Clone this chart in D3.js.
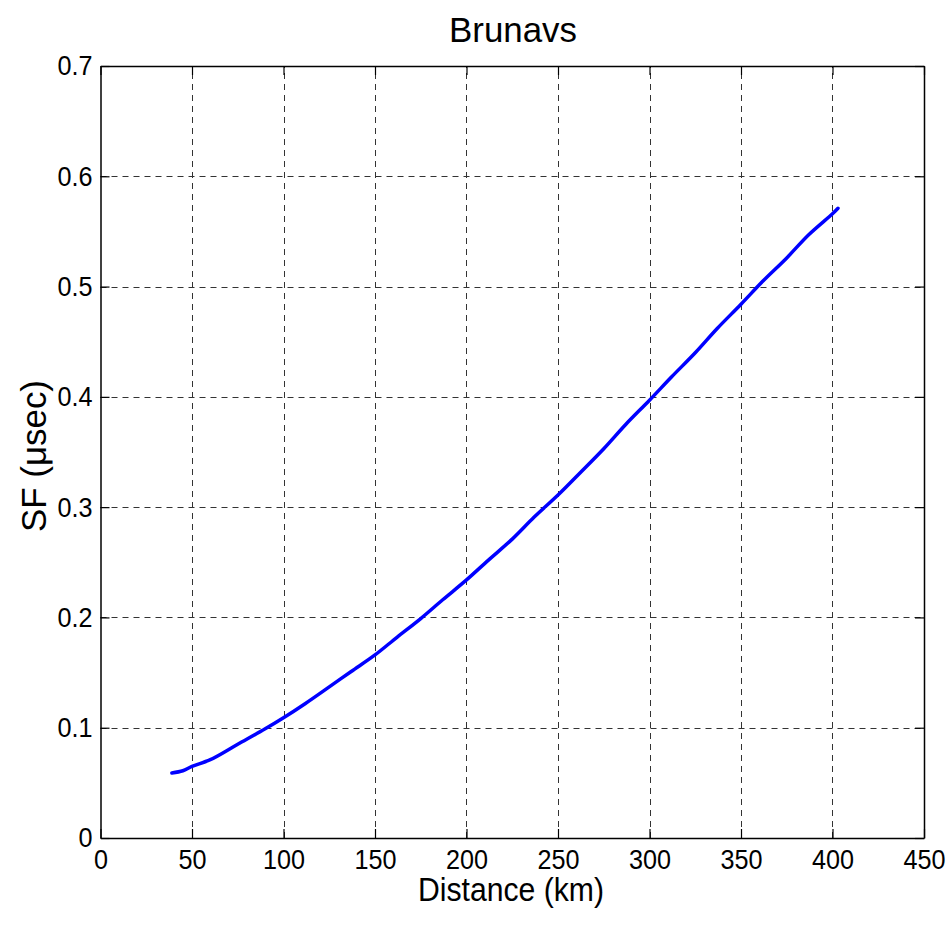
<!DOCTYPE html>
<html>
<head>
<meta charset="utf-8">
<script src="https://cdn.jsdelivr.net/npm/d3@7"></script>
<style>
  body { margin: 0; background: #fff; }
  text { font-family: "Liberation Sans", Arial, sans-serif; fill: #000; }
</style>
</head>
<body>
<svg id="chart" width="952" height="925"></svg>
<script>
// values
var distance = [39, 45, 50, 60, 75, 90, 100, 112, 125, 137, 150, 162, 175, 187, 200, 212, 225, 237, 250, 262, 275, 287, 300, 312, 325, 337, 350, 362, 375, 387, 400, 403];
var sf = [0.059, 0.061, 0.065, 0.071, 0.085, 0.099, 0.109, 0.122, 0.137, 0.151, 0.166, 0.182, 0.199, 0.216, 0.234, 0.252, 0.271, 0.291, 0.311, 0.331, 0.353, 0.375, 0.397, 0.418, 0.440, 0.462, 0.484, 0.505, 0.526, 0.547, 0.566, 0.571];
var xTicks = [0, 50, 100, 150, 200, 250, 300, 350, 400, 450];
var yTicks = [0, 0.1, 0.2, 0.3, 0.4, 0.5, 0.6, 0.7];

var plotL = 100.5, plotR = 924, plotT = 66, plotB = 838;
var svg = d3.select('#chart');

var x = d3.scaleLinear().domain([0, 450]).range([plotL, plotR]);
var y = d3.scaleLinear().domain([0, 0.7]).range([plotB, plotT]);

// grid
var grid = svg.append('g')
    .attr('stroke', '#333')
    .attr('stroke-width', 1)
    .attr('stroke-dasharray', '6,5');
xTicks.slice(1, -1).forEach(function (t) {
    grid.append('line')
        .attr('x1', Math.round(x(t)) + 0.5).attr('x2', Math.round(x(t)) + 0.5)
        .attr('y1', plotB).attr('y2', plotT);
});
yTicks.slice(1, -1).forEach(function (t) {
    grid.append('line')
        .attr('x1', plotL).attr('x2', plotR)
        .attr('y1', Math.round(y(t)) + 0.5).attr('y2', Math.round(y(t)) + 0.5);
});

// axes with inward ticks on all sides
function fmtY(d) { return d === 0 ? '0' : d3.format('.1f')(d); }
var ax = svg.append('g').attr('class', 'axes');
ax.append('g').attr('transform', 'translate(0,' + plotB + ')')
    .call(d3.axisBottom(x).tickValues(xTicks).tickSizeInner(-9).tickSizeOuter(0).tickPadding(11));
ax.append('g').attr('transform', 'translate(0,' + plotT + ')')
    .call(d3.axisTop(x).tickValues(xTicks).tickSizeInner(-9).tickSizeOuter(0).tickFormat(''));
ax.append('g').attr('transform', 'translate(' + plotL + ',0)')
    .call(d3.axisLeft(y).tickValues(yTicks).tickFormat(fmtY).tickSizeInner(-9).tickSizeOuter(0).tickPadding(8));
ax.append('g').attr('transform', 'translate(' + plotR + ',0)')
    .call(d3.axisRight(y).tickValues(yTicks).tickSizeInner(-9).tickSizeOuter(0).tickFormat(''));
ax.selectAll('.domain').attr('stroke', '#000').attr('stroke-width', 1.5);
ax.selectAll('.tick line').attr('stroke', '#000').attr('stroke-width', 1.2);
ax.selectAll('.tick text')
    .style('font-family', '"Liberation Sans", Arial, sans-serif')
    .style('font-size', '28px')
    .attr('fill', '#000');

// squeeze tick labels horizontally a little
ax.selectAll('.tick text').each(function () {
    var t = d3.select(this);
    t.attr('transform', 'scale(0.9,1)')
        .attr('x', (+t.attr('x') || 0) / 0.9);
});

// curve
var line = d3.line()
    .x(function (d, i) { return x(distance[i]); })
    .y(function (d) { return y(d); })
    .curve(d3.curveCatmullRom);
svg.append('path')
    .datum(sf)
    .attr('d', line)
    .attr('fill', 'none')
    .attr('stroke', '#0000ff')
    .attr('stroke-width', 3.5)
    .attr('stroke-linecap', 'round');

// labels
svg.append('text')
    .attr('x', 513).attr('y', 42)
    .attr('text-anchor', 'middle')
    .attr('textLength', 128).attr('lengthAdjust', 'spacingAndGlyphs')
    .style('font-size', '35px')
    .text('Brunavs');
svg.append('text')
    .attr('x', 511).attr('y', 901)
    .attr('text-anchor', 'middle')
    .attr('textLength', 186).attr('lengthAdjust', 'spacingAndGlyphs')
    .style('font-size', '33px')
    .text('Distance (km)');
svg.append('text')
    .attr('transform', 'translate(46,456) rotate(-90)')
    .attr('text-anchor', 'middle')
    .attr('textLength', 152).attr('lengthAdjust', 'spacingAndGlyphs')
    .style('font-size', '35px')
    .text('SF (μsec)');
</script>
</body>
</html>
